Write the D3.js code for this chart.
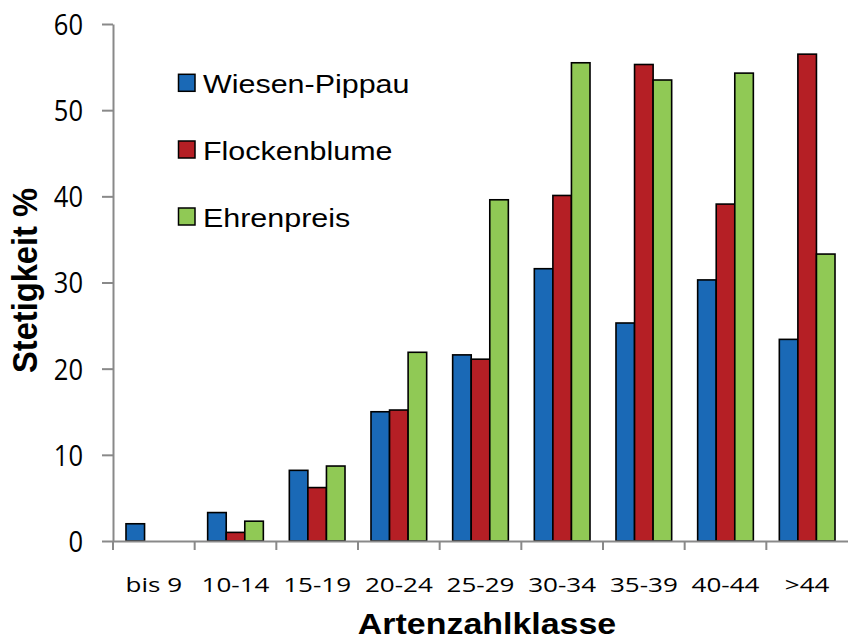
<!DOCTYPE html>
<html><head><meta charset="utf-8">
<script src="https://cdn.jsdelivr.net/npm/d3@7"></script>
<style>body{margin:0;background:#fff}</style>
</head><body>
<svg id="c" width="848" height="642"></svg>
<script>
const categories = ["bis 9","10-14","15-19","20-24","25-29","30-34","35-39","40-44",">44"];
const seriesNames = ["Wiesen-Pippau","Flockenblume","Ehrenpreis"];
const wiesenPippau = [2.0,3.3,8.2,15.0,21.6,31.6,25.3,30.3,23.4];
const flockenblume = [0,1.0,6.2,15.2,21.1,40.1,55.3,39.1,56.5];
const ehrenpreis = [0,2.3,8.7,21.9,39.6,55.5,53.5,54.3,33.3];
const yTicks = [0,10,20,30,40,50,60];
const colors = ["#1a69b6","#b51f25","#90c955"];

(function(){
const series = [wiesenPippau, flockenblume, ehrenpreis];
const svg = d3.select("#c");
const mLeft = 113, mRight = 848, mTop = 24, mBottom = 541;
const tickFont = "'Open Sans', sans-serif";
const arial = "'Liberation Sans', Arial, sans-serif";
// horizontal glyph scaling around the text's anchor
function stretch(sel, f){
  sel.each(function(){
    const s = d3.select(this);
    const x0 = +(s.attr("x") || 0);
    const tr = s.attr("transform") || "";
    s.attr("x", x0 / f).attr("transform", (tr + ` scale(${f},1)`).trim());
  });
}

const x = d3.scaleBand().domain(categories).range([mLeft, mRight]).paddingInner(0).paddingOuter(0);
const xs = d3.scaleBand().domain(seriesNames).range([0, x.bandwidth()]).paddingOuter(0.7).paddingInner(0);
const y = d3.scaleLinear().domain([0,60]).range([mBottom, mTop]);

series.forEach((vals, si) => {
  svg.append("g").selectAll("rect").data(vals.map((v,i)=>({v, c:categories[i]})).filter(d=>d.v>0))
    .join("rect")
    .attr("x", d => x(d.c) + xs(seriesNames[si]))
    .attr("y", d => y(d.v))
    .attr("width", xs.bandwidth())
    .attr("height", d => y(0) - y(d.v))
    .attr("fill", colors[si])
    .attr("stroke", "#000")
    .attr("stroke-width", 1.6);
});

const yAxis = svg.append("g").attr("transform", `translate(${mLeft},0)`)
  .call(d3.axisLeft(y).tickValues(yTicks).tickSize(11).tickSizeOuter(0).tickPadding(19));
yAxis.select(".domain").attr("stroke","#898989").attr("stroke-width",2);
yAxis.selectAll(".tick line").attr("stroke","#898989").attr("stroke-width",2);
yAxis.selectAll(".tick text").attr("font-family",tickFont).attr("font-size",29).attr("fill","#000").attr("dy","0.36em");
stretch(yAxis.selectAll(".tick text"), 0.88);

const xAxis = svg.append("g").attr("transform", `translate(0,${mBottom})`)
  .call(d3.axisBottom(x).tickSize(0).tickSizeOuter(0).tickPadding(51));
xAxis.select(".domain").attr("stroke","#898989").attr("stroke-width",2);
xAxis.selectAll(".tick text").attr("font-family",tickFont).attr("font-size",20.5).attr("fill","#000").attr("dy","0");
stretch(xAxis.selectAll(".tick text"), 1.27);
const bounds = categories.map(c => x(c));
svg.append("g").selectAll("line").data(bounds).join("line")
  .attr("x1", d=>d).attr("x2", d=>d).attr("y1", mBottom).attr("y2", mBottom+9)
  .attr("stroke","#898989").attr("stroke-width",2);

const leg = svg.append("g");
const legBase = [93.3, 160, 227];
seriesNames.forEach((n,i) => {
  leg.append("rect").attr("x",178.5).attr("y",legBase[i]-19).attr("width",16.5).attr("height",17)
    .attr("fill",colors[i]).attr("stroke","#000").attr("stroke-width",1.5);
  const t = leg.append("text").attr("x",203).attr("y",legBase[i])
    .attr("font-family",arial).attr("font-size",25.6).text(n);
  stretch(t, 1.19);
});

const xt = svg.append("text").attr("x", 487).attr("y", 634).attr("text-anchor","middle")
  .attr("font-family",arial).attr("font-weight","bold").attr("font-size",29)
  .text("Artenzahlklasse");
stretch(xt, 1.17);
const yt = svg.append("text").attr("text-anchor","middle")
  .attr("font-family",arial).attr("font-weight","bold").attr("font-size",35)
  .text("Stetigkeit %");
const natural = yt.node().getComputedTextLength();
yt.attr("transform", `translate(37,280.5) rotate(-90) scale(${185/natural},1)`);
})();
</script>
</body></html>
